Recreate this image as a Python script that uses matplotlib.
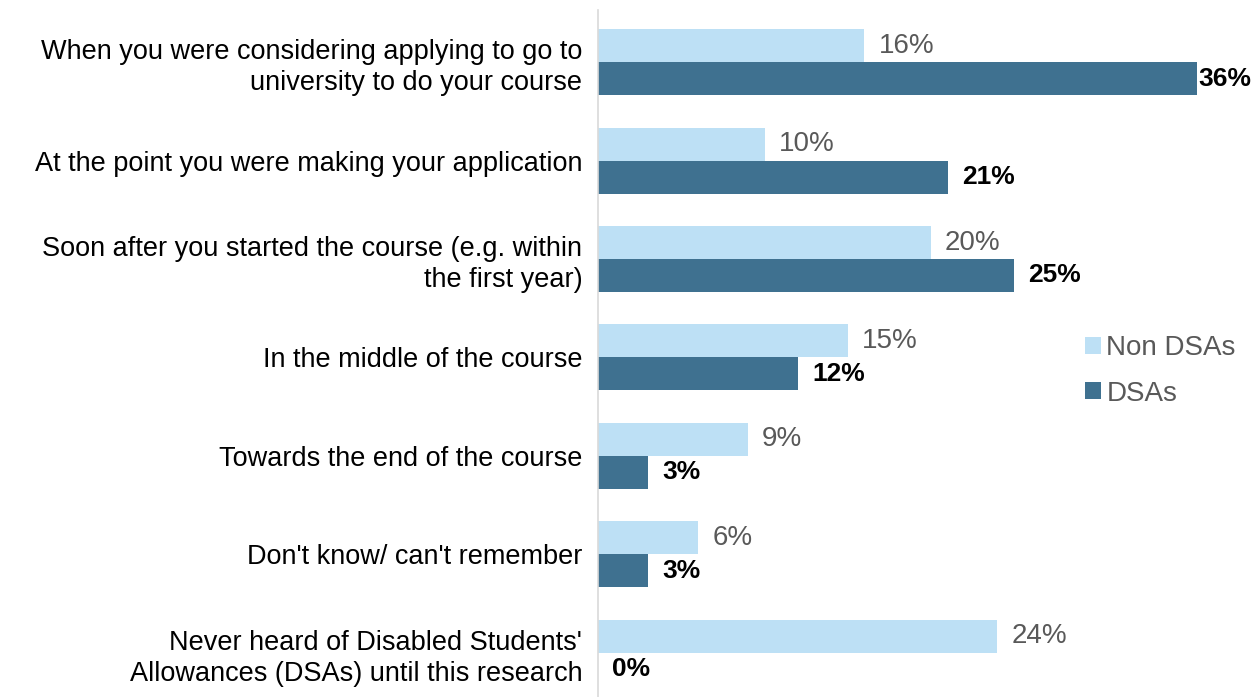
import matplotlib.pyplot as plt
import numpy as np

plt.rcParams['font.family'] = ['Liberation Sans', 'DejaVu Sans']

categories = [
    "When you were considering applying to go to\nuniversity to do your course",
    "At the point you were making your application",
    "Soon after you started the course (e.g. within\nthe first year)",
    "In the middle of the course",
    "Towards the end of the course",
    "Don't know/ can't remember",
    "Never heard of Disabled Students'\nAllowances (DSAs) until this research",
]
non_dsas = [16, 10, 20, 15, 9, 6, 24]
dsas = [36, 21, 25, 12, 3, 3, 0]

light = "#BDE0F5"
dark = "#3F7190"

fig = plt.figure(figsize=(12.58, 6.97), dpi=100)
ax = fig.add_axes([0.4755, 0.0, 0.529, 0.9857])

y = np.arange(len(categories))
h = 0.335
ax.barh(y - h / 2, non_dsas, height=h, color=light, label="Non DSAs")
ax.barh(y + h / 2, dsas, height=h, color=dark, label="DSAs")

ax.set_xlim(0, 40)
ax.set_ylim(6.45, -0.53)

for i, v in enumerate(non_dsas):
    ax.text(v + 0.85, i - h / 2, f"{v}%", va="center", ha="left",
            fontsize=20, color="#595959")
for i, v in enumerate(dsas):
    ax.text(min(v + 0.85, 36.1), i + h / 2, f"{v}%", va="center", ha="left",
            fontsize=19, color="#000000", fontweight="bold")

ax.set_yticks(y)
ax.set_yticklabels(categories, fontsize=19.5, color="#000000", linespacing=1.25)
ax.tick_params(axis="y", length=0, pad=11.5)
ax.set_xticks([])
for s in ["top", "right", "bottom"]:
    ax.spines[s].set_visible(False)
ax.spines["left"].set_color("#D9D9D9")
ax.spines["left"].set_linewidth(1.2)

fig.legend(loc="center left", bbox_to_anchor=(0.843, 0.468), frameon=False,
           fontsize=20, labelcolor="#595959", handlelength=0.55,
           handleheight=0.55, handletextpad=0.2, labelspacing=0.7)

fig.savefig("out.png", dpi=100)
